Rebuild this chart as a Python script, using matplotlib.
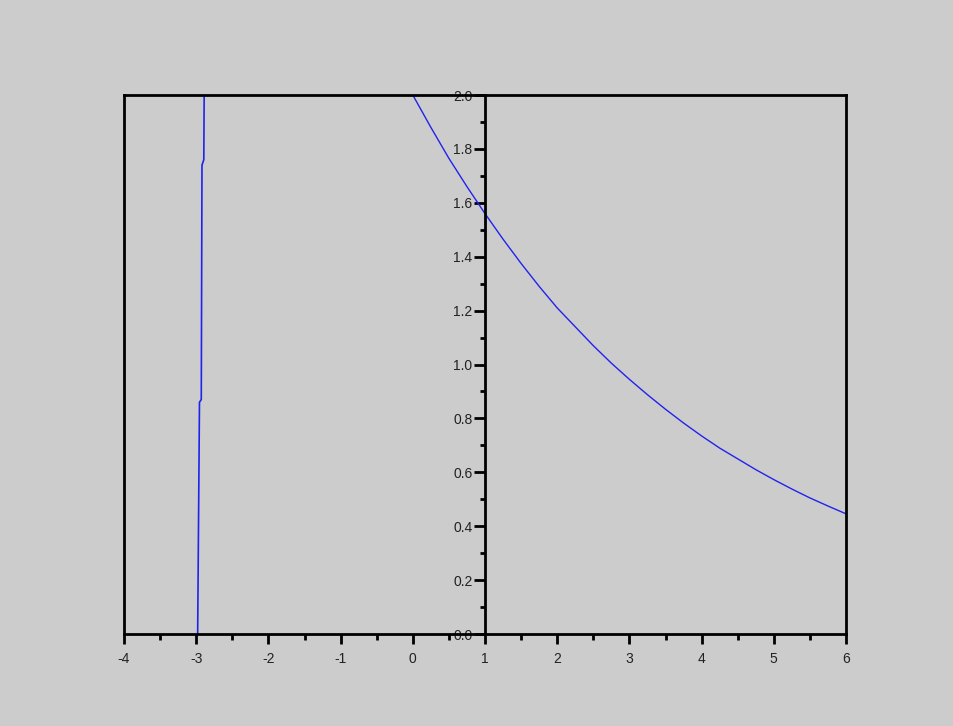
import numpy as np
import matplotlib.pyplot as plt
from matplotlib.ticker import MultipleLocator

plt.rcParams['axes.unicode_minus'] = False
plt.rcParams['font.family'] = ['Liberation Sans', 'DejaVu Sans']

# curve
x_curve = [0.0, 0.25, 0.5, 0.75, 1.0, 1.25, 1.5, 1.75, 2.0, 2.25, 2.5, 2.75, 3.0,
           3.25, 3.5, 3.75, 4.0, 4.25, 4.5, 4.75, 5.0, 5.25, 5.5, 5.75, 6.0]
y_curve = [2.0, 1.88, 1.765, 1.66, 1.56, 1.465, 1.375, 1.29, 1.21, 1.14, 1.07, 1.005, 0.945,
           0.888, 0.834, 0.783, 0.735, 0.69, 0.65, 0.61, 0.573, 0.538, 0.505, 0.475, 0.446]

# almost vertical line near x=-3
x_left = [-2.98, -2.955, -2.93, -2.92, -2.895, -2.89]
y_left = [0.0, 0.86, 0.87, 1.74, 1.76, 2.0]

bg = '#cccccc'
fig = plt.figure(figsize=(9.54, 7.26), dpi=100, facecolor=bg)
ax = fig.add_axes([0.13, 0.1267, 0.7568, 0.7424], facecolor=bg)

ax.plot(x_curve, y_curve, color='#2222ee', lw=1)
ax.plot(x_left, y_left, color='#2222ee', lw=1.2)

ax.set_xlim(-4, 6)
ax.set_ylim(0, 2)

ax.spines['left'].set_position(('data', 1))
for s in ax.spines.values():
    s.set_linewidth(2)
    s.set_color('black')
ax.axvline(-4, color='black', lw=2, clip_on=False)

ax.xaxis.set_major_locator(MultipleLocator(1))
ax.xaxis.set_minor_locator(MultipleLocator(0.5))
ax.yaxis.set_major_locator(MultipleLocator(0.2))
ax.yaxis.set_minor_locator(MultipleLocator(0.1))
ax.yaxis.set_major_formatter(plt.FormatStrFormatter('%.1f'))

ax.tick_params(axis='x', which='major', direction='out', length=7, width=2, pad=6,
               labelsize=10, labelcolor='#222222', top=False)
ax.tick_params(axis='x', which='minor', direction='out', length=4.5, width=2, top=False)
ax.tick_params(axis='y', which='major', direction='out', length=8, width=2, pad=1,
               labelsize=10, labelcolor='#222222', right=False)
ax.tick_params(axis='y', which='minor', direction='out', length=3.5, width=2, right=False)

plt.savefig('out.png', dpi=100, facecolor=bg)
